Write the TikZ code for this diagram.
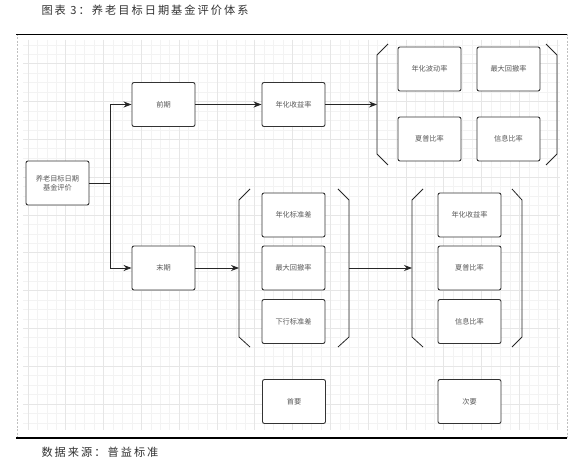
\documentclass[tikz,border=0pt]{standalone}
\usepackage{fontspec}
\newfontfamily\cjk{Noto Sans CJK SC}
\newfontfamily\cjkt[LetterSpace=18]{Noto Sans CJK SC}
\usetikzlibrary{arrows.meta}
\definecolor{gminor}{HTML}{F3F3F3}
\definecolor{gmajor}{HTML}{E6E6E6}
\definecolor{boxline}{HTML}{333333}
\definecolor{boxtext}{HTML}{5A5A5A}
\begin{document}
\begin{tikzpicture}[x={(1pt,0)},y={(0,-1pt)},
  box/.style={draw=boxline,line width=0.9pt,rounded corners=2pt,fill=white,
    minimum width=63pt,minimum height=44pt,inner sep=1pt,
    font=\cjk\fontsize{7.2}{9}\selectfont,text=boxtext,align=center},
  arr/.style={draw=black!85,line width=0.8pt,-{Stealth[length=8pt,width=6pt]}},
  brk/.style={draw=black!85,line width=0.8pt},
  gridminor/.style={draw=gminor,line width=0.5pt},
  gridmajor/.style={draw=gmajor,line width=0.6pt},
  captext/.style={anchor=west,font=\cjkt\fontsize{11.2}{13}\selectfont,text=black!80}]
\useasboundingbox (0,0) rectangle (582,465);
\fill[white] (0,0) rectangle (582,465);
% grid
\foreach \k in {-4,...,52} \draw[gridminor] ({65.7+9.45*\k},40) -- ({65.7+9.45*\k},430);
\foreach \k in {-30,...,10} \draw[gridminor] (23,{328.3+9.45*\k}) -- (560,{328.3+9.45*\k});
\foreach \k in {-1,...,13} \draw[gridmajor] ({65.7+37.8*\k},40) -- ({65.7+37.8*\k},430);
\foreach \k in {-7,...,2} \draw[gridmajor] (23,{328.3+37.8*\k}) -- (560,{328.3+37.8*\k});
% frame
\draw[black!25,line width=0.5pt,dash pattern=on 2pt off 1.5pt] (17,34) -- (17,438);
\draw[black!25,line width=0.5pt,dash pattern=on 2pt off 1.5pt] (567,34) -- (567,438);
\draw[black,line width=1.1pt] (16,34.3) -- (567,34.3);
\draw[black,line width=1.1pt] (16,438) -- (567,438);
% title and source
\node[captext] (title) at (38,10) {图表 3：养老目标日期基金评价体系};
\node[captext] (src) at (38,452) {数据来源：普益标准};
% nodes
\node[box] (root) at (57.5,183) {养老目标日期\\基金评价};
\node[box] (qian) at (163.5,104.5) {前期};
\node[box] (mo) at (163.5,268) {末期};
\node[box] (ret) at (293.5,104.5) {年化收益率};
\node[box] (vol) at (429.5,69) {年化波动率};
\node[box] (mdd) at (508.5,69) {最大回撤率};
\node[box] (shp) at (429.5,139) {夏普比率};
\node[box] (inf) at (508.5,139) {信息比率};
\node[box] (std) at (293.5,215) {年化标准差};
\node[box] (mdd2) at (293.5,268) {最大回撤率};
\node[box] (dstd) at (293.5,321.5) {下行标准差};
\node[box] (ret2) at (469.5,215) {年化收益率};
\node[box] (shp2) at (469.5,268) {夏普比率};
\node[box] (inf2) at (469.5,321.5) {信息比率};
\node[box] (pri) at (294,401.5) {首要};
\node[box] (sec) at (469.5,401.5) {次要};
% brackets
\draw[brk] (388,44) -- (377,55) -- (377,154) -- (388,165);
\draw[brk] (546,44) -- (557,55) -- (557,154) -- (546,165);
\draw[brk] (250,189) -- (239,200) -- (239,337) -- (250,347);
\draw[brk] (338,189) -- (349,200) -- (349,337) -- (338,347);
\draw[brk] (423,189) -- (412,200) -- (412,337) -- (423,347);
\draw[brk] (512,189) -- (522,200) -- (522,337) -- (512,347);
\coordinate (tbl) at (377,104.5);
\coordinate (mbl) at (239,268);
\coordinate (mbr) at (349,268);
\coordinate (rbl) at (412,268);
% connectors
\draw[arr] (root.east) -- ++(21,0) |- (qian.west);
\draw[arr] (root.east) -- ++(21,0) |- (mo.west);
\draw[arr] (qian) -- (ret);
\draw[arr] (ret) -- (tbl);
\draw[arr] (mo) -- (mbl);
\draw[arr] (mbr) -- (rbl);
\end{tikzpicture}
\end{document}
